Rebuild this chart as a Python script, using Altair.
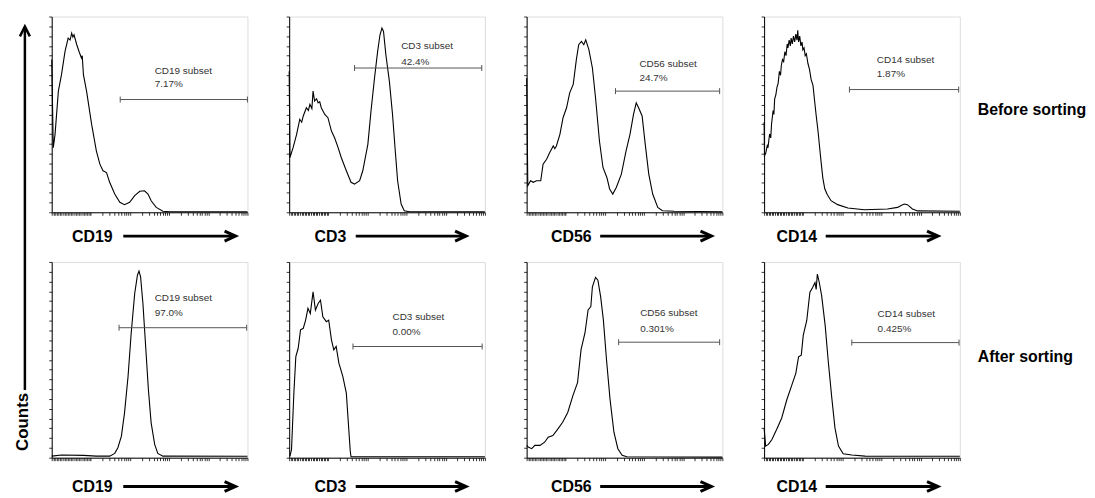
import math
import altair as alt
import pandas as pd

# ---------------- data (x in log decades 0-5, y in % of panel maximum) -------------
MARKERS = ["CD19", "CD3", "CD56", "CD14"]
ROW_LABELS = ["Before sorting", "After sorting"]
Y_LABEL = "Counts"
PCT = [["7.17%", "42.4%", "24.7%", "1.87%"],
       ["97.0%", "0.00%", "0.301%", "0.425%"]]

cd19_before_x = [0, 0.04, 0.085, 0.17, 0.25, 0.34, 0.42, 0.47, 0.51, 0.54, 0.57, 0.64, 0.7, 0.76, 0.78, 0.81,
                 0.89, 1.02, 1.14, 1.23, 1.31, 1.4, 1.48, 1.61, 1.74, 1.86, 1.99, 2.12, 2.25, 2.37, 2.46, 2.54,
                 2.67, 2.84, 3.01, 5.0]
cd19_before_y = [78, 33, 39.8, 61.9, 70.3, 82.2, 89, 88, 91.5, 89.5, 90.7, 85.6, 82, 78.8, 80, 70.3,
                 61.9, 44.9, 31.4, 24.6, 21.2, 20.3, 15.3, 9.3, 5.1, 3.9, 5.1, 8.5, 10.7, 11.0, 9.3, 5.9,
                 2.5, 0.5, 0.3, 0.3]

cd3_before_x = [0, 0.02, 0.1, 0.19, 0.27, 0.32, 0.36, 0.44, 0.49, 0.53, 0.58, 0.61, 0.65, 0.7, 0.74, 0.78,
                0.82, 0.91, 0.99, 1.08, 1.16, 1.25, 1.33, 1.46, 1.58, 1.67, 1.8, 1.88, 2.01, 2.09, 2.18, 2.26,
                2.32, 2.37, 2.41, 2.47, 2.56, 2.64, 2.71, 2.77, 2.86, 2.94, 3.07, 5.0]
cd3_before_y = [72, 28, 33, 39.8, 47.5, 46, 49.2, 53.4, 52, 55.1, 53, 61.9, 56.8, 58, 55.9, 56.5,
                53.4, 50, 48.3, 41.5, 38.1, 33, 28, 21.2, 15.3, 14.4, 16.1, 21.2, 34.7, 51.7, 68.6, 82.2,
                90.7, 94.1, 92.4, 80.5, 66.9, 50, 31.4, 16.1, 4.2, 0.8, 0.3, 0.3]

cd56_before_x = [0, 0.03, 0.1, 0.17, 0.25, 0.36, 0.42, 0.51, 0.59, 0.68, 0.72, 0.76, 0.85, 0.93, 1.02, 1.1,
                 1.19, 1.27, 1.33, 1.4, 1.46, 1.51, 1.59, 1.68, 1.76, 1.86, 1.95, 2.05, 2.12, 2.2, 2.29, 2.42,
                 2.54, 2.64, 2.73, 2.8, 2.86, 2.95, 3.03, 3.12, 3.22, 3.35, 3.47, 3.77, 5.0]
cd56_before_y = [68.6, 13.6, 16.1, 15.3, 16.1, 16.1, 24.6, 27.1, 30.5, 33.9, 32.5, 33.9, 39.8, 48.3, 53.4, 61,
                 65.3, 78, 85.6, 87.3, 85.6, 88.1, 83.1, 73.7, 58.5, 36.4, 22.9, 17.8, 11.9, 9.3, 12.7, 19.5,
                 31.4, 39.8, 50, 55.9, 53.4, 49.2, 34.7, 19.5, 9.3, 2.5, 0.8, 0.5, 0.3]

cd14_before_x = [0, 0.01, 0.04, 0.08, 0.1, 0.14, 0.17, 0.19, 0.23, 0.25, 0.27, 0.3, 0.33, 0.36, 0.39, 0.42,
                 0.44, 0.47, 0.5, 0.53, 0.56, 0.59, 0.61, 0.64, 0.67, 0.69, 0.72, 0.75, 0.78, 0.81, 0.84, 0.86,
                 0.88, 0.91, 0.94, 0.97, 0.99, 1.02, 1.05, 1.08, 1.12, 1.16, 1.2, 1.25, 1.29, 1.33, 1.38, 1.42,
                 1.46, 1.5, 1.55, 1.61, 1.71, 1.88, 2.14, 2.56, 3.15, 3.41, 3.5, 3.58, 3.66, 3.79, 3.92, 5.0]
cd14_before_y = [46, 29, 30, 34, 33, 40, 38, 45, 52, 50, 58, 60, 64, 66, 72, 70,
                 75, 78, 77, 82, 80, 86, 84, 88, 85, 89, 86, 90, 87, 91, 88, 93,
                 87, 90, 85, 87, 83, 84, 80, 81, 76, 73, 68, 64.7, 57, 49.6, 41, 32.8,
                 25, 17.6, 12, 9.2, 5.9, 3.9, 2.2, 1.3, 1.7, 2.5, 3.5, 4.2, 3.9, 1.7, 0.7, 0.5]

cd19_after_x = [0, 0.25, 0.81, 1.14, 1.48, 1.61, 1.69, 1.78, 1.86, 1.95, 2.03, 2.12, 2.19, 2.23, 2.27, 2.33,
                2.4, 2.47, 2.54, 2.63, 2.71, 2.84, 5.0]
cd19_after_y = [0.8, 1.4, 1.2, 0.8, 0.8, 2.2, 5.1, 11, 22.9, 41.5, 63.6, 83.9, 93.2, 95.4, 92.4, 78.8,
                56.8, 34.7, 17.8, 6.8, 2.2, 0.8, 0.7]

cd3_after_x = [0.02, 0.06, 0.12, 0.17, 0.23, 0.29, 0.36, 0.42, 0.48, 0.54, 0.61, 0.67, 0.74, 0.8, 0.86, 0.95,
               1.01, 1.08, 1.14, 1.2, 1.27, 1.37, 1.46, 1.5, 1.56, 1.58, 5.0]
cd3_after_y = [0.8, 4.2, 33, 51.7, 55.9, 65.3, 66.1, 70.3, 76.3, 73.7, 84.7, 75.4, 78.8, 80.5, 72, 69.5,
               70.3, 60.2, 55.1, 56.8, 48.3, 41.5, 33, 21.2, 3.4, 0.5, 0.5]

cd56_after_x = [0, 0.04, 0.13, 0.21, 0.34, 0.46, 0.55, 0.67, 0.8, 0.92, 1.05, 1.18, 1.3, 1.39, 1.49, 1.57,
                1.64, 1.68, 1.76, 1.82, 1.89, 1.96, 2.04, 2.13, 2.23, 2.33, 2.44, 2.56, 5.0]
cd56_after_y = [6.3, 5.4, 4.6, 6.3, 6.3, 7.9, 10.5, 11.3, 14.7, 18.1, 23.1, 31.6, 38.3, 55.2, 63.7, 75.5,
                77.2, 87.3, 92.1, 90.7, 82.3, 70.4, 50.2, 29.9, 13, 4.6, 1.2, 0.5, 0.3]

cd14_after_x = [0, 0.04, 0.11, 0.2, 0.32, 0.45, 0.58, 0.71, 0.81, 0.88, 0.95, 1.0, 1.09, 1.17, 1.24, 1.3,
                1.33, 1.36, 1.41, 1.47, 1.56, 1.64, 1.73, 1.81, 1.9, 2.02, 2.24, 2.58, 5.0]
cd14_after_y = [15.2, 5.9, 6.8, 9.3, 14.4, 20.3, 29.6, 37.2, 43.1, 51.5, 52.4, 62.5, 70.1, 84.5, 87, 89.5,
                86, 93.8, 89.5, 82.8, 67.6, 49, 30.4, 15.2, 5.9, 2, 1.4, 0.8, 0.7]

CURVES = [[(cd19_before_x, cd19_before_y), (cd3_before_x, cd3_before_y),
           (cd56_before_x, cd56_before_y), (cd14_before_x, cd14_before_y)],
          [(cd19_after_x, cd19_after_y), (cd3_after_x, cd3_after_y),
           (cd56_after_x, cd56_after_y), (cd14_after_x, cd14_after_y)]]

gate_start = [[1.75, 1.67, 2.27, 2.18], [1.72, 1.63, 2.35, 2.24]]
gate_end = [[5.0, 4.92, 4.93, 4.97], [4.98, 4.93, 4.93, 4.98]]
gate_y = [[57.6, 73.7, 61.9, 62.7], [66.4, 56.8, 59.0, 58.8]]
label_x = [[2.63, 2.86, 2.88, 2.88], [2.63, 2.64, 2.9, 2.9]]
label_y = [[72.4, 84.7, 75.8, 77.8], [81.4, 71.7, 73.8, 73.5]]
pct_y = [[65.6, 76.6, 68.6, 70.6], [74.1, 64.4, 65.7, 65.9]]

# ---------------- layout / style (pixels) ----------------
W, H = 197, 197
TITLE_X = [20, 25, 24, 12]
TITLE_DY = [24, 29]
ARROW_START = [72, 67, 74, 62]
ARROW_END = [185, 178, 186, 175]
ROW_LABEL_Y = [94, 96]
FONT = "Liberation Sans"

XTICKS = [round(i * 0.04, 3) for i in range(26)] + \
         [d + math.log10(k) for d in range(1, 5) for k in range(1, 10)] + [5.0]
YTICKS = [i * 5 for i in range(21)]

xsc = alt.Scale(domain=[0, 5], nice=False, zero=False)
ysc = alt.Scale(domain=[0, 100], nice=False, zero=False)


def panel(r, c):
    xs, ys = CURVES[r][c]
    xax = alt.Axis(values=XTICKS, labels=False, ticks=True, tickSize=3, tickWidth=0.8,
                   tickColor="#000", domainColor="#000", domainWidth=1, grid=False,
                   title=MARKERS[c], titleFont=FONT, titleFontSize=16, titleFontWeight="bold",
                   titleColor="#000", titleAnchor="start", titleAlign="left",
                   titleBaseline="middle", titleX=TITLE_X[c], titleY=TITLE_DY[r])
    yax = alt.Axis(values=YTICKS, labels=False, ticks=True, tickSize=3, tickWidth=0.8,
                   tickColor="#000", domainColor="#000", domainWidth=1, grid=False, title="")
    X = lambda f: alt.X(f, scale=xsc, axis=xax)
    Y = lambda f: alt.Y(f, scale=ysc, axis=yax)

    df = pd.DataFrame({"x": xs, "y": ys, "i": list(range(len(xs)))})
    line = alt.Chart(df).mark_line(color="#000", strokeWidth=1.1).encode(
        x=X("x:Q"), y=Y("y:Q"), order="i:Q")

    gdf = pd.DataFrame({"x1": [gate_start[r][c]], "x2": [gate_end[r][c]], "y": [gate_y[r][c]]})
    gate = alt.Chart(gdf).mark_rule(color="#555", strokeWidth=1).encode(
        x=X("x1:Q"), x2="x2:Q", y=Y("y:Q"))
    cdf = pd.DataFrame({"x": [gate_start[r][c], gate_end[r][c]], "y": [gate_y[r][c]] * 2})
    caps = alt.Chart(cdf).mark_point(shape="M0,-1L0,1", size=36, filled=False,
                                     color="#555", strokeWidth=1, opacity=1).encode(
        x=X("x:Q"), y=Y("y:Q"))

    tdf = pd.DataFrame({"x": [label_x[r][c]] * 2, "y": [label_y[r][c], pct_y[r][c]],
                        "t": [MARKERS[c] + " subset", PCT[r][c]]})
    txt = alt.Chart(tdf).mark_text(align="left", baseline="middle", font=FONT, fontSize=10,
                                   color="#333").encode(x=X("x:Q"), y=Y("y:Q"), text="t:N")

    one = pd.DataFrame({"k": [0]})
    ay = H + TITLE_DY[r]
    arrow = alt.Chart(one).mark_rule(color="#000", strokeWidth=3).encode(
        x=alt.value(ARROW_START[c]), x2=alt.value(ARROW_END[c] - 2), y=alt.value(ay))
    head = alt.Chart(one).mark_point(shape="M-1,-0.45L0,0L-1,0.45", size=484, filled=False,
                                     color="#000", strokeWidth=3, opacity=1,
                                     strokeJoin="miter").encode(
        x=alt.value(ARROW_END[c]), y=alt.value(ay))

    layers = [line, gate, caps, txt, arrow, head]

    if c == 3:
        rdf = pd.DataFrame({"t": [ROW_LABELS[r]]})
        layers.append(alt.Chart(rdf).mark_text(align="left", baseline="middle", font=FONT,
                                               fontSize=16, fontWeight="bold", color="#000").encode(
            x=alt.value(W + 18), y=alt.value(ROW_LABEL_Y[r]), text="t:N"))

    if r == 0 and c == 0:
        layers.append(alt.Chart(one).mark_rule(color="#000", strokeWidth=2.5).encode(
            x=alt.value(-27), y=alt.value(11), y2=alt.value(376)))
        layers.append(alt.Chart(one).mark_point(shape="M-0.5,1L0,0L0.5,1", size=400, filled=False,
                                                color="#000", strokeWidth=2.5, opacity=1,
                                                strokeJoin="miter").encode(
            x=alt.value(-27), y=alt.value(10)))
        cl = pd.DataFrame({"t": [Y_LABEL]})
        layers.append(alt.Chart(cl).mark_text(angle=270, align="center", baseline="middle",
                                              font=FONT, fontSize=17, fontWeight="bold",
                                              color="#000").encode(
            x=alt.value(-29), y=alt.value(408), text="t:N"))

    return alt.layer(*layers).properties(width=W, height=H)


panels = [panel(r, c) for r in range(2) for c in range(4)]

chart = alt.concat(*panels, columns=4, spacing={"row": 50, "column": 42},
                   bounds="flush").properties(
    padding={"left": 5, "top": 6, "right": 0, "bottom": 0}
).configure_view(stroke="#000", strokeWidth=1).configure(background="white")

chart.save("out.html", embed_options={"renderer": "svg", "actions": False})
